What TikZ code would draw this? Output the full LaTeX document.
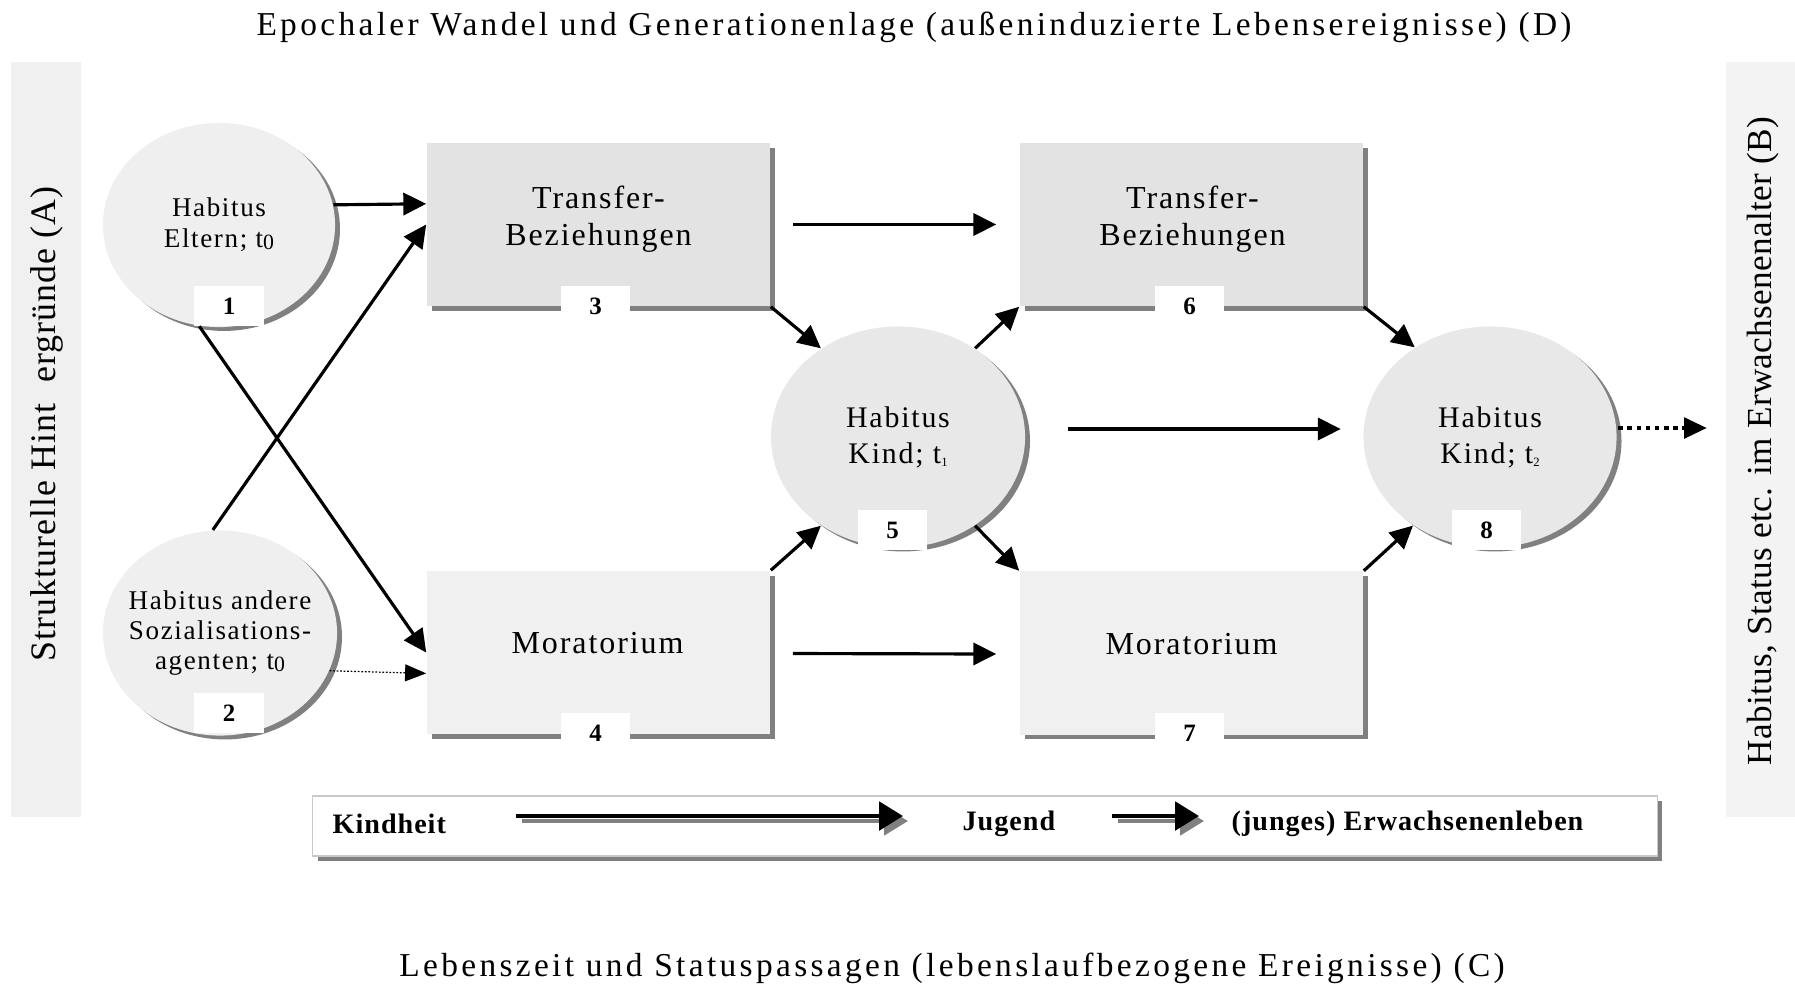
\documentclass[tikz,border=0pt]{standalone}
\usepackage{fontspec}
\setmainfont{Liberation Serif}
\newfontfamily\spacedfont[LetterSpace=6]{Liberation Serif}
\newfontfamily\widefont[LetterSpace=10]{Liberation Serif}
\newfontfamily\sidefont[LetterSpace=3]{Liberation Serif}
\newfontfamily\stagefont[LetterSpace=3.5]{Liberation Serif}

\usetikzlibrary{arrows.meta,shapes.geometric,shadows,calc}

\definecolor{shade}{HTML}{808080}
\definecolor{circfill}{HTML}{EFEFEF}
\definecolor{circfillB}{HTML}{E8E8E8}
\definecolor{boxdark}{HTML}{E3E3E3}
\definecolor{boxlight}{HTML}{F0F0F0}
\definecolor{barfill}{HTML}{F0F0F0}
\definecolor{barfillB}{HTML}{F3F3F3}
\definecolor{framegray}{HTML}{C8C8C8}

% subscripts of the time indices
\newcommand\lowsub[1]{\raisebox{-0.6pt}{\fontsize{6.2}{6}\selectfont #1}}
\newcommand\tinysub[1]{\raisebox{-1pt}{\fontsize{3.6}{4}\selectfont #1}}

\tikzset{
  habitus/.style={ellipse, inner sep=0pt,
    drop shadow={shadow xshift=1.4pt, shadow yshift=-1.1pt, fill=shade, opacity=1}},
  habitustext/.style={align=center, inner sep=0pt},
  field/.style={rectangle, inner sep=0pt, minimum width=3.43cm, minimum height=1.63cm,
    drop shadow={shadow xshift=1.4pt, shadow yshift=-1.4pt, fill=shade, opacity=1}},
  fieldtext/.style={align=center, inner sep=0pt, font=\spacedfont\fontsize{9.1}{10.5}\selectfont},
  numtag/.style={fill=white, inner sep=0pt, minimum width=0.69cm, minimum height=0.40cm,
    font=\fontsize{7.1}{8}\selectfont\bfseries},
  link/.style={-{Triangle[length=6.5pt,width=6.3pt]}, line width=0.9pt},
  thinlink/.style={-{Triangle[length=6pt,width=4.8pt]}, line width=0.35pt,
    dash pattern=on 0.5pt off 0.5pt},
  outlink/.style={-{Triangle[length=6.5pt,width=5.7pt]}, line width=1.4pt,
    dash pattern=on 1.3pt off 1.3pt},
  bartext/.style={rotate=90, inner sep=0pt},
  stage/.style={anchor=west, inner sep=0pt, font=\stagefont\fontsize{8}{9}\selectfont\bfseries},
  tlarrow/.style={-{Triangle[length=6.8pt,width=8pt]}, line width=1.4pt},
  tlshadow/.style={-{Triangle[length=6.8pt,width=8pt]}, line width=1.2pt, draw=shade, fill=shade},
  heading/.style={inner sep=0pt, font=\widefont\fontsize{9.5}{11}\selectfont}
}

\begin{document}
\begin{tikzpicture}[x=0.01cm, y=-0.01cm]
\useasboundingbox (0,0) rectangle (1795,984);

% headings
\node[heading] (top) at (914,27) {Epochaler Wandel und Generationenlage (außeninduzierte Lebensereignisse) (D)};
\node[heading] (bottom) at (952,968) {Lebenszeit und Statuspassagen (lebenslaufbezogene Ereignisse) (C)};

% side bars
\fill[barfill] (11,62) rectangle (81,817);
\node[bartext, font=\sidefont\fontsize{10.2}{12}\selectfont] (sideA) at (47,424) {Strukturelle Hint\ \ ergründe (A)};
\fill[barfillB] (1726,62) rectangle (1795,817);
\node[bartext, font=\fontsize{10}{12}\selectfont\addfontfeatures{LetterSpace=1}] (sideB) at (1763,441) {Habitus, Status etc. im Erwachsenenalter (B)};

% habitus ellipses
\node[habitus, fill=circfill, minimum width=2.32cm, minimum height=2.04cm] (c1) at (219,225) {};
\node[habitus, fill=circfill, minimum width=2.34cm, minimum height=2.05cm] (c2) at (220,633) {};
\node[habitus, fill=circfillB, minimum width=2.54cm, minimum height=2.21cm] (c5) at (898,437) {};
\node[habitus, fill=circfillB, minimum width=2.53cm, minimum height=2.21cm] (c8) at (1490,437) {};
\node[habitustext, font=\spacedfont\fontsize{7.7}{8.8}\selectfont] (c1t) at (c1) {Habitus\\Eltern; t\lowsub{0}};
\node[habitustext, font=\spacedfont\fontsize{7.7}{8.5}\selectfont] (c2t) at (c2) {Habitus andere\\Sozialisations-\\agenten; t\lowsub{0}};
\node[habitustext, font=\spacedfont\fontsize{8.5}{10.2}\selectfont] (c5t) at (c5) {Habitus\\Kind; t\tinysub{1}};
\node[habitustext, font=\spacedfont\fontsize{8.5}{10.2}\selectfont] (c8t) at (c8) {Habitus\\Kind; t\tinysub{2}};

% fields
\node[field, fill=boxdark] (b3) at (598.5,224.5) {};
\node[field, fill=boxlight] (b4) at (598.5,652.5) {};
\node[field, fill=boxdark] (b6) at (1191.5,224.5) {};
\node[field, fill=boxlight] (b7) at (1191.5,653) {};
\node[fieldtext] (t3) at ($(b3.center)+(0,-5)$) {Transfer-\\Beziehungen};
\node[fieldtext] (t4) at ($(b4.center)+(-1,-9)$) {Moratorium};
\node[fieldtext] (t6) at ($(b6.center)+(1,-5)$) {Transfer-\\Beziehungen};
\node[fieldtext] (t7) at ($(b7.center)+(0,-9)$) {Moratorium};

% number tags
\node[numtag] (n1) at (229,306) {1};
\node[numtag] (n2) at (229,713) {2};
\node[numtag] (n3) at (595.5,306) {3};
\node[numtag] (n4) at (595.5,733) {4};
\node[numtag] (n5) at (892.5,530) {5};
\node[numtag] (n6) at (1189.5,306) {6};
\node[numtag] (n7) at (1189.5,733) {7};
\node[numtag] (n8) at (1486.5,530) {8};

% connections
\draw[link] (c1.10) -- ($(b3.north west)!0.374!(b3.south west)$);
\draw[link] (c2.94) -- (b3.west);
\draw[link] (c1.259) -- (b4.west);
\draw[thinlink] (c2.341) -- ($(b4.north west)!0.627!(b4.south west)$);
\draw[link] ($(b3.east)+(22,0)$) -- ($(b6.west)+(-23,0)$);
\draw[link] ($(b4.east)+(22,1)$) -- ($(b7.west)+(-23,1)$);
\draw[link] (b3.south east) -- (c5.131);
\draw[link] (b4.north east) -- (c5.229);
\draw[link] (c5.49) -- (b6.south west);
\draw[link] (c5.311) -- (b7.north west);
\draw[link] ($(c5.east)+(42,-8)$) -- ($(c8.west)+(-22,-8)$);
\draw[link] (b6.south east) -- (c8.130);
\draw[link] (b7.north east) -- (c8.229);
\coordinate (adult) at (1707,428);
\draw[outlink] ($(c8.east)+(1,-9)$) -- (adult);

% life course strip
\node[rectangle, draw=framegray, line width=0.45pt, fill=white, inner sep=0pt,
  minimum width=13.44cm, minimum height=0.60cm,
  drop shadow={shadow xshift=1.4pt, shadow yshift=-1.4pt, fill=shade, opacity=1}] (strip) at (985,826) {};
\node[stage] (kind) at (332,824) {Kindheit};
\node[stage] (jug) at (962,824) {Jugend};
\node[stage] (erw) at (1231,824) {(junges) Erwachsenenleben};
\draw[tlshadow] ($(kind.east)+(75,-3)$) -- ($(jug.west)+(-54,-3)$);
\draw[tlarrow] ($(kind.east)+(69,-8)$) -- ($(jug.west)+(-59,-8)$);
\draw[tlshadow] ($(jug.east)+(62,-3)$) -- ($(erw.west)+(-27,-3)$);
\draw[tlarrow] ($(jug.east)+(56,-8)$) -- ($(erw.west)+(-32,-8)$);
\end{tikzpicture}
\end{document}
